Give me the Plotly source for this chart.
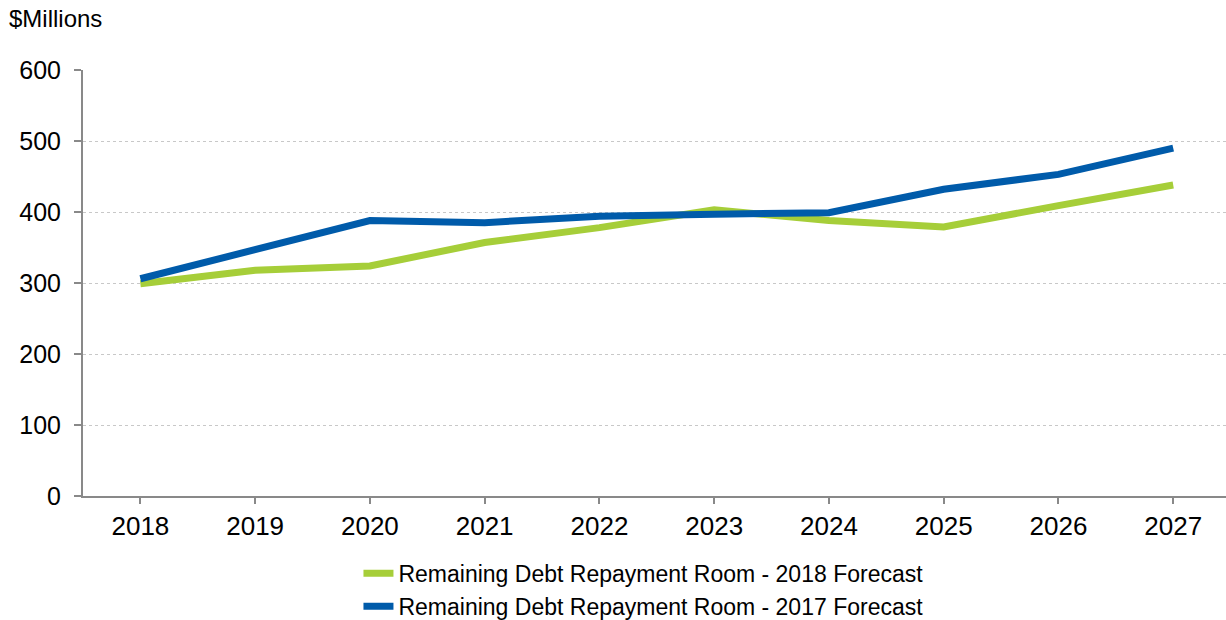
import plotly.graph_objects as go

years = ["2018", "2019", "2020", "2021", "2022", "2023", "2024", "2025", "2026", "2027"]
forecast_2018 = [299, 318, 324, 357, 378, 403, 388, 379, 409, 438]
forecast_2017 = [306, 348, 388, 385, 394, 397, 399, 432, 453, 490]
y_ticks = [0, 100, 200, 300, 400, 500, 600]

fig = go.Figure()
fig.add_trace(go.Scatter(
    x=years, y=forecast_2018, mode="lines",
    name="Remaining Debt Repayment Room - 2018 Forecast",
    line=dict(color="#A6CE39", width=7),
))
fig.add_trace(go.Scatter(
    x=years, y=forecast_2017, mode="lines",
    name="Remaining Debt Repayment Room - 2017 Forecast",
    line=dict(color="#005BAA", width=7),
))

fig.update_layout(
    width=1226, height=620,
    margin=dict(l=83, r=0, t=70, b=124),
    paper_bgcolor="white", plot_bgcolor="white",
    font=dict(family="Liberation Sans, Arial, sans-serif", color="black"),
    showlegend=True,
    legend=dict(
        orientation="v", x=0.241, xanchor="left",
        yref="container", y=0.11, yanchor="top",
        font=dict(size=23), tracegroupgap=0, itemwidth=30,
        bgcolor="rgba(0,0,0,0)",
    ),
    xaxis=dict(
        type="category", range=[-0.5, 9.46], automargin=False,
        showline=True, linecolor="#898989", linewidth=2,
        ticks="outside", ticklen=6, tickcolor="#898989", tickwidth=2,
        tickfont=dict(size=26), showgrid=False, zeroline=False,
    ),
    yaxis=dict(
        range=[0, 600], tickvals=y_ticks, automargin=False,
        showline=True, linecolor="#898989", linewidth=2,
        ticks="outside", ticklen=7, tickcolor="#898989", tickwidth=2,
        tickfont=dict(size=25), ticklabelstandoff=8,
        showgrid=True, gridcolor="#c8c8c8", griddash="dot", gridwidth=1,
        zeroline=False,
    ),
    annotations=[dict(
        text="$Millions", xref="paper", yref="paper",
        x=-76/1143, y=1 + 51/426, xanchor="left", yanchor="middle",
        showarrow=False, font=dict(size=24),
    )],
)

fig.write_html("out.html", config={"displayModeBar": False},
               post_script="document.body.style.margin='0px';")
